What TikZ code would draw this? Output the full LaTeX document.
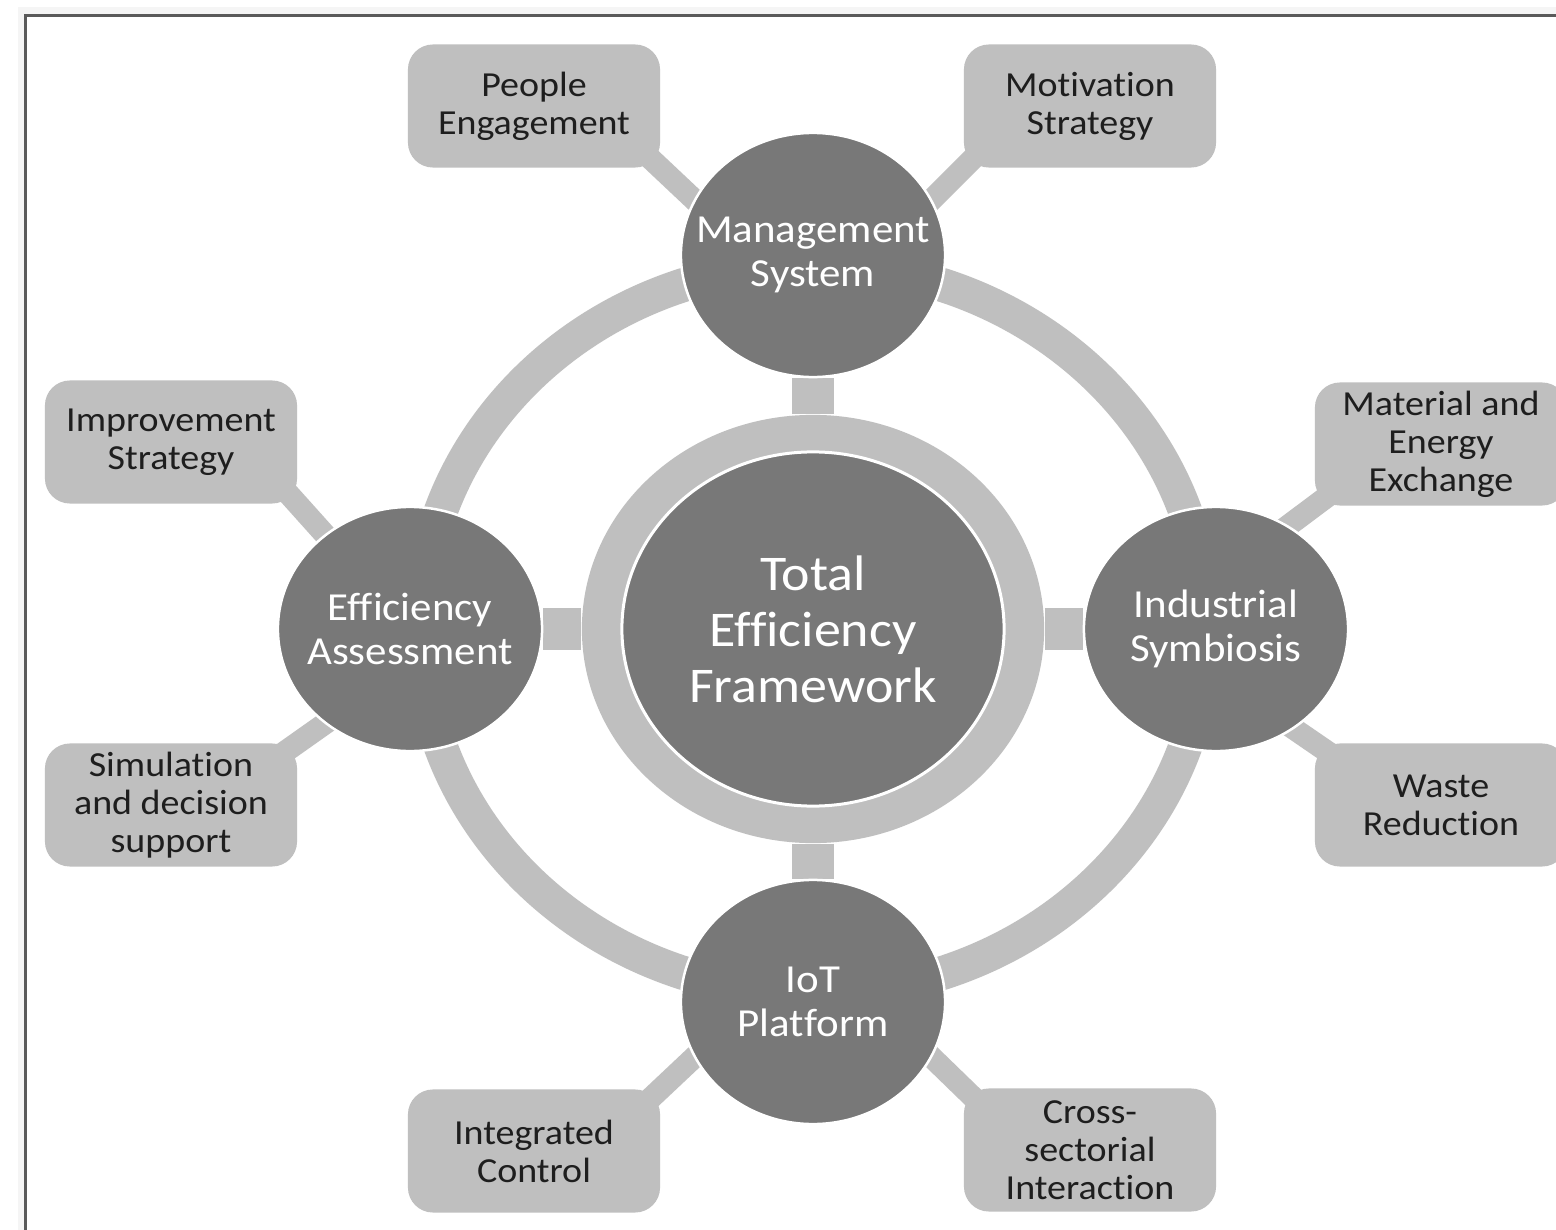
\documentclass[tikz,border=0pt]{standalone}
\usepackage{fontspec}
\setmainfont{Carlito}[FakeStretch=1.08, Ligatures=NoCommon]
\usetikzlibrary{shapes.geometric,backgrounds}

\definecolor{ringgray}{HTML}{BFBFBF}
\definecolor{hubgray}{HTML}{787878}
\definecolor{framegray}{HTML}{5A5A5A}
\definecolor{boxtext}{HTML}{1E1E1E}

\tikzset{
  hubring/.style={ellipse, fill=ringgray, minimum width=4.62cm, minimum height=4.28cm, inner sep=0pt},
  hub/.style={ellipse, fill=hubgray, draw=white, line width=0.03cm, minimum width=3.82cm,
    minimum height=3.54cm, text=white, align=center, inner sep=0pt,
    font=\fontsize{14.2}{15.9}\selectfont},
  sattext/.style={text=white, align=center, inner sep=0pt, font=\fontsize{11.3}{12.5}\selectfont},
  sat/.style={ellipse, fill=hubgray, draw=white, line width=0.025cm, minimum width=2.64cm,
    minimum height=2.44cm, inner sep=0pt, label={[sattext]center:#1}},
  leaf/.style={rectangle, rounded corners=0.25cm, fill=ringgray, minimum width=2.52cm,
    minimum height=1.23cm, text=boxtext, align=center, inner sep=0pt,
    font=\fontsize{10}{10.8}\selectfont},
  spoke/.style={ringgray, line width=0.42cm},
  stub/.style={ringgray, line width=0.22cm, shorten <=-0.06cm, shorten >=-0.22cm},
}

\begin{document}
\begin{tikzpicture}[x=0.01cm, y=-0.01cm]
\useasboundingbox (0,0) rectangle (1556,1230);

% page frame
\begin{scope}[on background layer]
  \fill[gray!8] (18,7) rectangle (1600,1300);
  \draw[framegray, line width=0.035cm, fill=white] (25.5,15.5) rectangle (1600,1300);
\end{scope}

% hub
\node[hubring] (hubo) at (813,629) {};
\node[hub] (tef) at (813,629) {Total\\Efficiency\\Framework};

% satellites
\node[sat={Management\\System}] (ms) at (813,255) {};
\node[sat={Efficiency\\Assessment}] (ea) at (410,629) {};
\node[sat={Industrial\\Symbiosis}] (is) at (1216,629) {};
\node[sat={IoT\\Platform}] (iot) at (813,1002) {};

% leaves
\node[leaf] (pe) at (534,106) {People\\Engagement};
\node[leaf] (mo) at (1090,106) {Motivation\\Strategy};
\node[leaf] (im) at (171,442) {Improvement\\Strategy};
\node[leaf] (si) at (171,805) {Simulation\\and decision\\support};
\node[leaf] (mat) at (1441,444) {Material and\\Energy\\Exchange};
\node[leaf] (wr) at (1441,805) {Waste\\Reduction};
\node[leaf] (ic) at (534,1151) {Integrated\\Control};
\node[leaf] (cs) at (1090,1150) {Cross-\\sectorial\\Interaction};

% ring, spokes and stubs
\begin{scope}[on background layer]
  \draw[ringgray, line width=0.34cm] (tef) ellipse [x radius=3.93cm, y radius=3.64cm];
  \draw[spoke] (hubo) -- (ms);
  \draw[spoke] (hubo) -- (ea);
  \draw[spoke] (hubo) -- (is);
  \draw[spoke] (hubo) -- (iot);
  \draw[stub] (ms.155) -- (pe.south east);
  \draw[stub] (ms.25) -- (mo.south west);
  \draw[stub] (ea.132) -- (im.south east);
  \draw[stub] (ea.228) -- (si.north east);
  \draw[stub] (is.55) -- (mat.south west);
  \draw[stub] (is.308) -- (wr.north west);
  \draw[stub] (iot.205) -- (ic.north east);
  \draw[stub] (iot.335) -- (cs.north west);
\end{scope}
\end{tikzpicture}
\end{document}
